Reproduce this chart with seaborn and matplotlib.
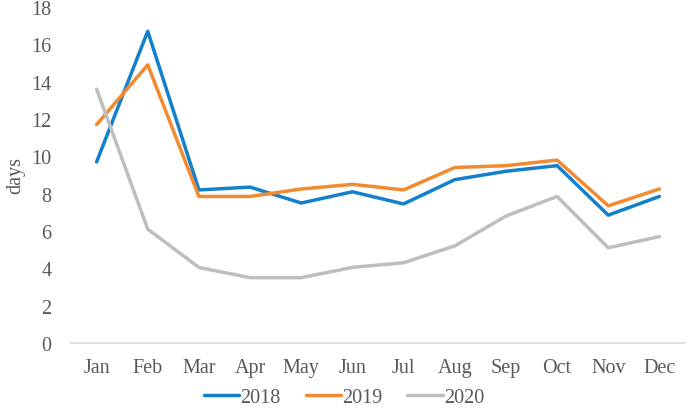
import numpy as np
import pandas as pd
import matplotlib
matplotlib.use("Agg")
import matplotlib.pyplot as plt
import seaborn as sns

# Dados
months = ["Jan", "Feb", "Mar", "Apr", "May", "Jun", "Jul", "Aug", "Sep", "Oct", "Nov", "Dec"]
years = ["2018", "2019", "2020"]
v2018 = [9.7, 16.7, 8.2, 8.35, 7.5, 8.1, 7.45, 8.75, 9.2, 9.5, 6.85, 7.85]
v2019 = [11.7, 14.9, 7.85, 7.85, 8.25, 8.5, 8.2, 9.4, 9.5, 9.8, 7.35, 8.25]
v2020 = [13.6, 6.1, 4.05, 3.5, 3.5, 4.05, 4.3, 5.2, 6.8, 7.85, 5.1, 5.7]
colors = ["#1380CB", "#F28A30", "#BEBEBE"]

df = pd.DataFrame({
    "month": months * 3,
    "pos": list(range(12)) * 3,
    "days": v2018 + v2019 + v2020,
    "year": [y for y in years for _ in months],
})

sns.set_style("white")
plt.rcParams["font.family"] = ["Liberation Serif", "DejaVu Serif"]
text_color = "#595959"
fs = 14.5

fig = plt.figure(figsize=(6.88, 4.14), dpi=100)
ax = fig.add_axes([71 / 688, 1 - 344 / 414, 614 / 688, 336 / 414])

sns.lineplot(data=df, x="pos", y="days", hue="year", palette=colors,
             linewidth=2.5, ax=ax, legend=True)

ax.set_xlim(-0.5, 11.5)
ax.set_ylim(0, 18)
ax.set_xticks(range(12))
ax.set_xticklabels(months)
ax.set_yticks(range(0, 19, 2))
ax.tick_params(axis="both", length=0, labelsize=fs, labelcolor=text_color)
ax.tick_params(axis="x", pad=11)
ax.tick_params(axis="y", pad=14)
ax.set_xlabel("")
ax.set_ylabel("days", fontsize=fs, color=text_color, labelpad=4)

for s in ["top", "right", "left"]:
    ax.spines[s].set_visible(False)
ax.spines["bottom"].set_color("#D9D9D9")
ax.spines["bottom"].set_linewidth(1.2)

# Legenda centrada na figura, abaixo do eixo
handles, labels = ax.get_legend_handles_labels()
ax.get_legend().remove()
fig.legend(handles, labels, loc="center", bbox_to_anchor=(0.5, 1 - 398 / 414),
           ncol=3, frameon=False, fontsize=fs, handlelength=1.75,
           handletextpad=0.05, columnspacing=1.25, labelcolor=text_color,
           borderpad=0)

fig.savefig("out.png", dpi=100)
